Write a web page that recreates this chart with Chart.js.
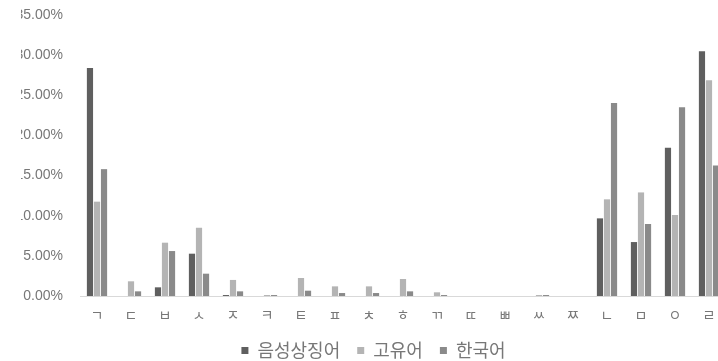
<!DOCTYPE html>
<html>
<head>
<meta charset="utf-8">
<script src="https://cdn.jsdelivr.net/npm/chart.js@4/dist/chart.umd.min.js"></script>
<style>
  html, body { margin: 0; padding: 0; background: #fff; overflow: hidden; }
  canvas { position: absolute; left: 0; top: 0; }
</style>
</head>
<body>
<canvas id="c" width="736" height="361"></canvas>
<script>
// Initial consonants, in the order they appear on the axis
const categories = ['ㄱ','ㄷ','ㅂ','ㅅ','ㅈ','ㅋ','ㅌ','ㅍ','ㅊ','ㅎ','ㄲ','ㄸ','ㅃ','ㅆ','ㅉ','ㄴ','ㅁ','ㅇ','ㄹ'];

// Share of each consonant (fraction of 1)
const soundSymbolic = [0.2840, 0, 0.0108, 0.0527, 0.0012, 0, 0, 0, 0, 0, 0, 0, 0, 0, 0, 0.0967, 0.0672, 0.1847, 0.3050];
const nativeWords   = [0.1175, 0.0183, 0.0664, 0.0850, 0.0200, 0.0012, 0.0224, 0.0120, 0.0120, 0.0212, 0.0046, 0, 0, 0.0012, 0, 0.1204, 0.1290, 0.1009, 0.2686];
const korean        = [0.1580, 0.0058, 0.0560, 0.0278, 0.0058, 0.0012, 0.0066, 0.0037, 0.0037, 0.0058, 0.0012, 0, 0, 0.0012, 0, 0.2403, 0.0897, 0.2350, 0.1627];

const seriesNames = ['음성상징어', '고유어', '한국어'];
const yTicks = [0, 0.05, 0.10, 0.15, 0.20, 0.25, 0.30, 0.35];

const textGray = '#777777';

// Legend keeps a fixed box height so the row sits near the bottom edge
const legendHeight = {
  id: 'legendHeight',
  beforeLayout(chart) {
    const lg = chart.legend;
    if (!lg || lg._fixed) return;
    lg._fixed = true;
    const fit = lg.fit;
    lg.fit = function () {
      fit.call(this);
      this.height = 36.5;
    };
  }
};

new Chart(document.getElementById('c'), {
  type: 'bar',
  data: {
    labels: categories,
    datasets: [
      { label: seriesNames[0], data: soundSymbolic, backgroundColor: '#5f5f5f' },
      { label: seriesNames[1], data: nativeWords,   backgroundColor: '#b4b4b4' },
      { label: seriesNames[2], data: korean,        backgroundColor: '#8a8a8a' }
    ]
  },
  plugins: [legendHeight],
  options: {
    responsive: false,
    animation: false,
    layout: { padding: { left: 21, right: 10, top: 0, bottom: 0 } },
    datasets: { bar: { categoryPercentage: 0.62, barPercentage: 0.88 } },
    scales: {
      x: {
        afterFit(scale) { scale.height = 28.5; },
        grid: { display: false, drawTicks: false },
        border: { display: true, color: '#d9d9d9', width: 1 },
        ticks: {
          padding: 10,
          color: textGray,
          maxRotation: 0,
          autoSkip: false,
          font: { family: '"Noto Sans CJK KR", sans-serif', size: 14 }
        }
      },
      y: {
        min: 0,
        max: 0.35,
        afterBuildTicks(scale) { scale.ticks = yTicks.map(v => ({ value: v })); },
        afterFit(scale) {
          scale.width = 59;
          scale.paddingTop = 15;
          scale.paddingBottom = 0;
        },
        grid: { display: false, drawTicks: false },
        border: { display: false },
        ticks: {
          padding: 17,
          crossAlign: 'near',
          color: textGray,
          font: { family: '"Liberation Sans", Arial, sans-serif', size: 14 },
          callback: v => (v * 100).toFixed(2) + '%'
        }
      }
    },
    plugins: {
      tooltip: { enabled: false },
      legend: {
        position: 'bottom',
        labels: {
          boxWidth: 7,
          boxHeight: 7,
          padding: 17,
          color: textGray,
          font: { family: '"Noto Sans CJK KR", sans-serif', size: 18 }
        }
      }
    }
  }
});
</script>
</body>
</html>
